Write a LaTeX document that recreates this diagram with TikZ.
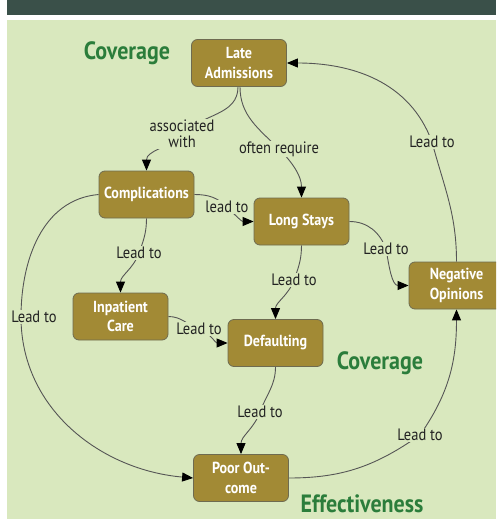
\documentclass[tikz,border=0pt]{standalone}
\usepackage{fontspec}
\setmainfont{PT Sans}[FakeStretch=0.88]
\usetikzlibrary{arrows.meta,calc}

\definecolor{barcol}{HTML}{3A5049}
\definecolor{panel}{HTML}{D9E8BE}
\definecolor{boxfill}{HTML}{A28A35}
\definecolor{boxline}{HTML}{6E6B50}
\definecolor{titlecol}{HTML}{2B7D3B}
\definecolor{linkcol}{HTML}{555555}
\definecolor{labelcol}{HTML}{222222}

\pgfdeclarelayer{back}
\pgfdeclarelayer{links}
\pgfsetlayers{back,links,main}

\begin{document}
\begin{tikzpicture}[x=1pt,y=1pt,
  cbox/.style={draw=boxline, line width=0.8pt, fill=boxfill, rounded corners=6pt,
    minimum width=95pt, minimum height=47pt, text=white, align=center, inner sep=2pt,
    font=\bfseries\fontsize{16}{19.5}\selectfont},
  lbl/.style={fill=panel, text=labelcol, align=center, inner sep=1pt,
    font=\fontsize{16.5}{16}\selectfont},
  ttl/.style={text=titlecol, inner sep=0pt, font=\bfseries\fontsize{25}{26}\selectfont},
  lnk/.style={draw=linkcol, line width=0.9pt},
  lnkarrow/.style={lnk, -{Triangle[length=11pt,width=9pt,color=black]}}
]
\useasboundingbox (0,0) rectangle (496,-519);
\clip (0,0) rectangle (496,-519);

% header bar and panel
\begin{pgfonlayer}{back}
  \fill[barcol] (7,0) rectangle (496,-15);
  \fill[panel] (7,-20) rectangle (496,-519);
\end{pgfonlayer}

% concepts
\node[cbox] (la)   at (239,-63)      {Late\\Admissions};
\node[cbox] (comp) at (146.5,-194.5) {Complications};
\node[cbox] (ls)   at (301.5,-221.5) {Long Stays};
\node[cbox] (ip)   at (120.5,-316.5) {Inpatient\\Care};
\node[cbox] (def)  at (275.5,-343)   {Defaulting};
\node[cbox] (neg)  at (456.5,-285.5) {Negative\\Opinions};
\node[cbox] (po)   at (241,-478)     {Poor Out-\\come};

% section titles
\node[ttl] (t1) at (127,-53)  {Coverage};
\node[ttl] (t2) at (380,-363) {Coverage};
\node[ttl] (t3) at (362,-503.5) {Effectiveness};

% link labels
\node[lbl] (l1)  at (182,-134) {associated\\with};
\node[lbl] (l2)  at (279,-149) {often require};
\node[lbl] (l3)  at (227,-207) {lead to};
\node[lbl] (l4)  at (139,-253) {Lead to};
\node[lbl] (l5)  at (199,-329) {Lead to};
\node[lbl] (l6)  at (294,-280) {Lead to};
\node[lbl] (l7)  at (386,-249) {Lead to};
\node[lbl] (l8)  at (260,-412) {Lead to};
\node[lbl] (l9)  at (34,-317)  {Lead to};
\node[lbl] (l10) at (420,-435) {Lead to};
\node[lbl] (l11) at (432,-142) {Lead to};

% links, drawn beneath the labels
\begin{pgfonlayer}{links}
  \draw[lnkarrow] ($(la.south)+(-1,0)$) to[out=-90,in=45] (l1.center)
                  to[out=225,in=90] (comp.north);
  \draw[lnkarrow] ($(la.south)+(1,0)$) to[out=-90,in=135] (l2.center)
                  to[out=-45,in=90] (ls.north);
  \draw[lnkarrow] (comp.east) to[out=0,in=135] (l3.center)
                  to[out=-45,in=180] (ls.west);
  \draw[lnkarrow] (comp.south) to[out=-90,in=70] (l4.center)
                  to[out=250,in=90] (ip.north);
  \draw[lnkarrow] (ip.east) to[out=0,in=160] (l5.center)
                  to[out=-20,in=180] (def.west);
  \draw[lnkarrow] (ls.south) to[out=-90,in=70] (l6.center)
                  to[out=250,in=90] (def.north);
  \draw[lnkarrow] (ls.east) to[out=0,in=110] (l7.center)
                  to[out=-80,in=180] (neg.west);
  \draw[lnkarrow] (def.south) to[out=-90,in=70] (l8.center)
                  to[out=250,in=90] (po.north);
  \draw[lnkarrow] (comp.west) to[out=185,in=90] ($(l9.center)+(-13,0)$)
                  to[out=-90,in=175] (po.west);
  \draw[lnkarrow] (po.east) to[out=0,in=215] (l10.center)
                  to[out=55,in=-90] (neg.south);
  \draw[lnkarrow] (neg.north) to[out=90,in=-75] (l11.center)
                  to[out=110,in=0] (la.east);
\end{pgfonlayer}
\end{tikzpicture}
\end{document}
